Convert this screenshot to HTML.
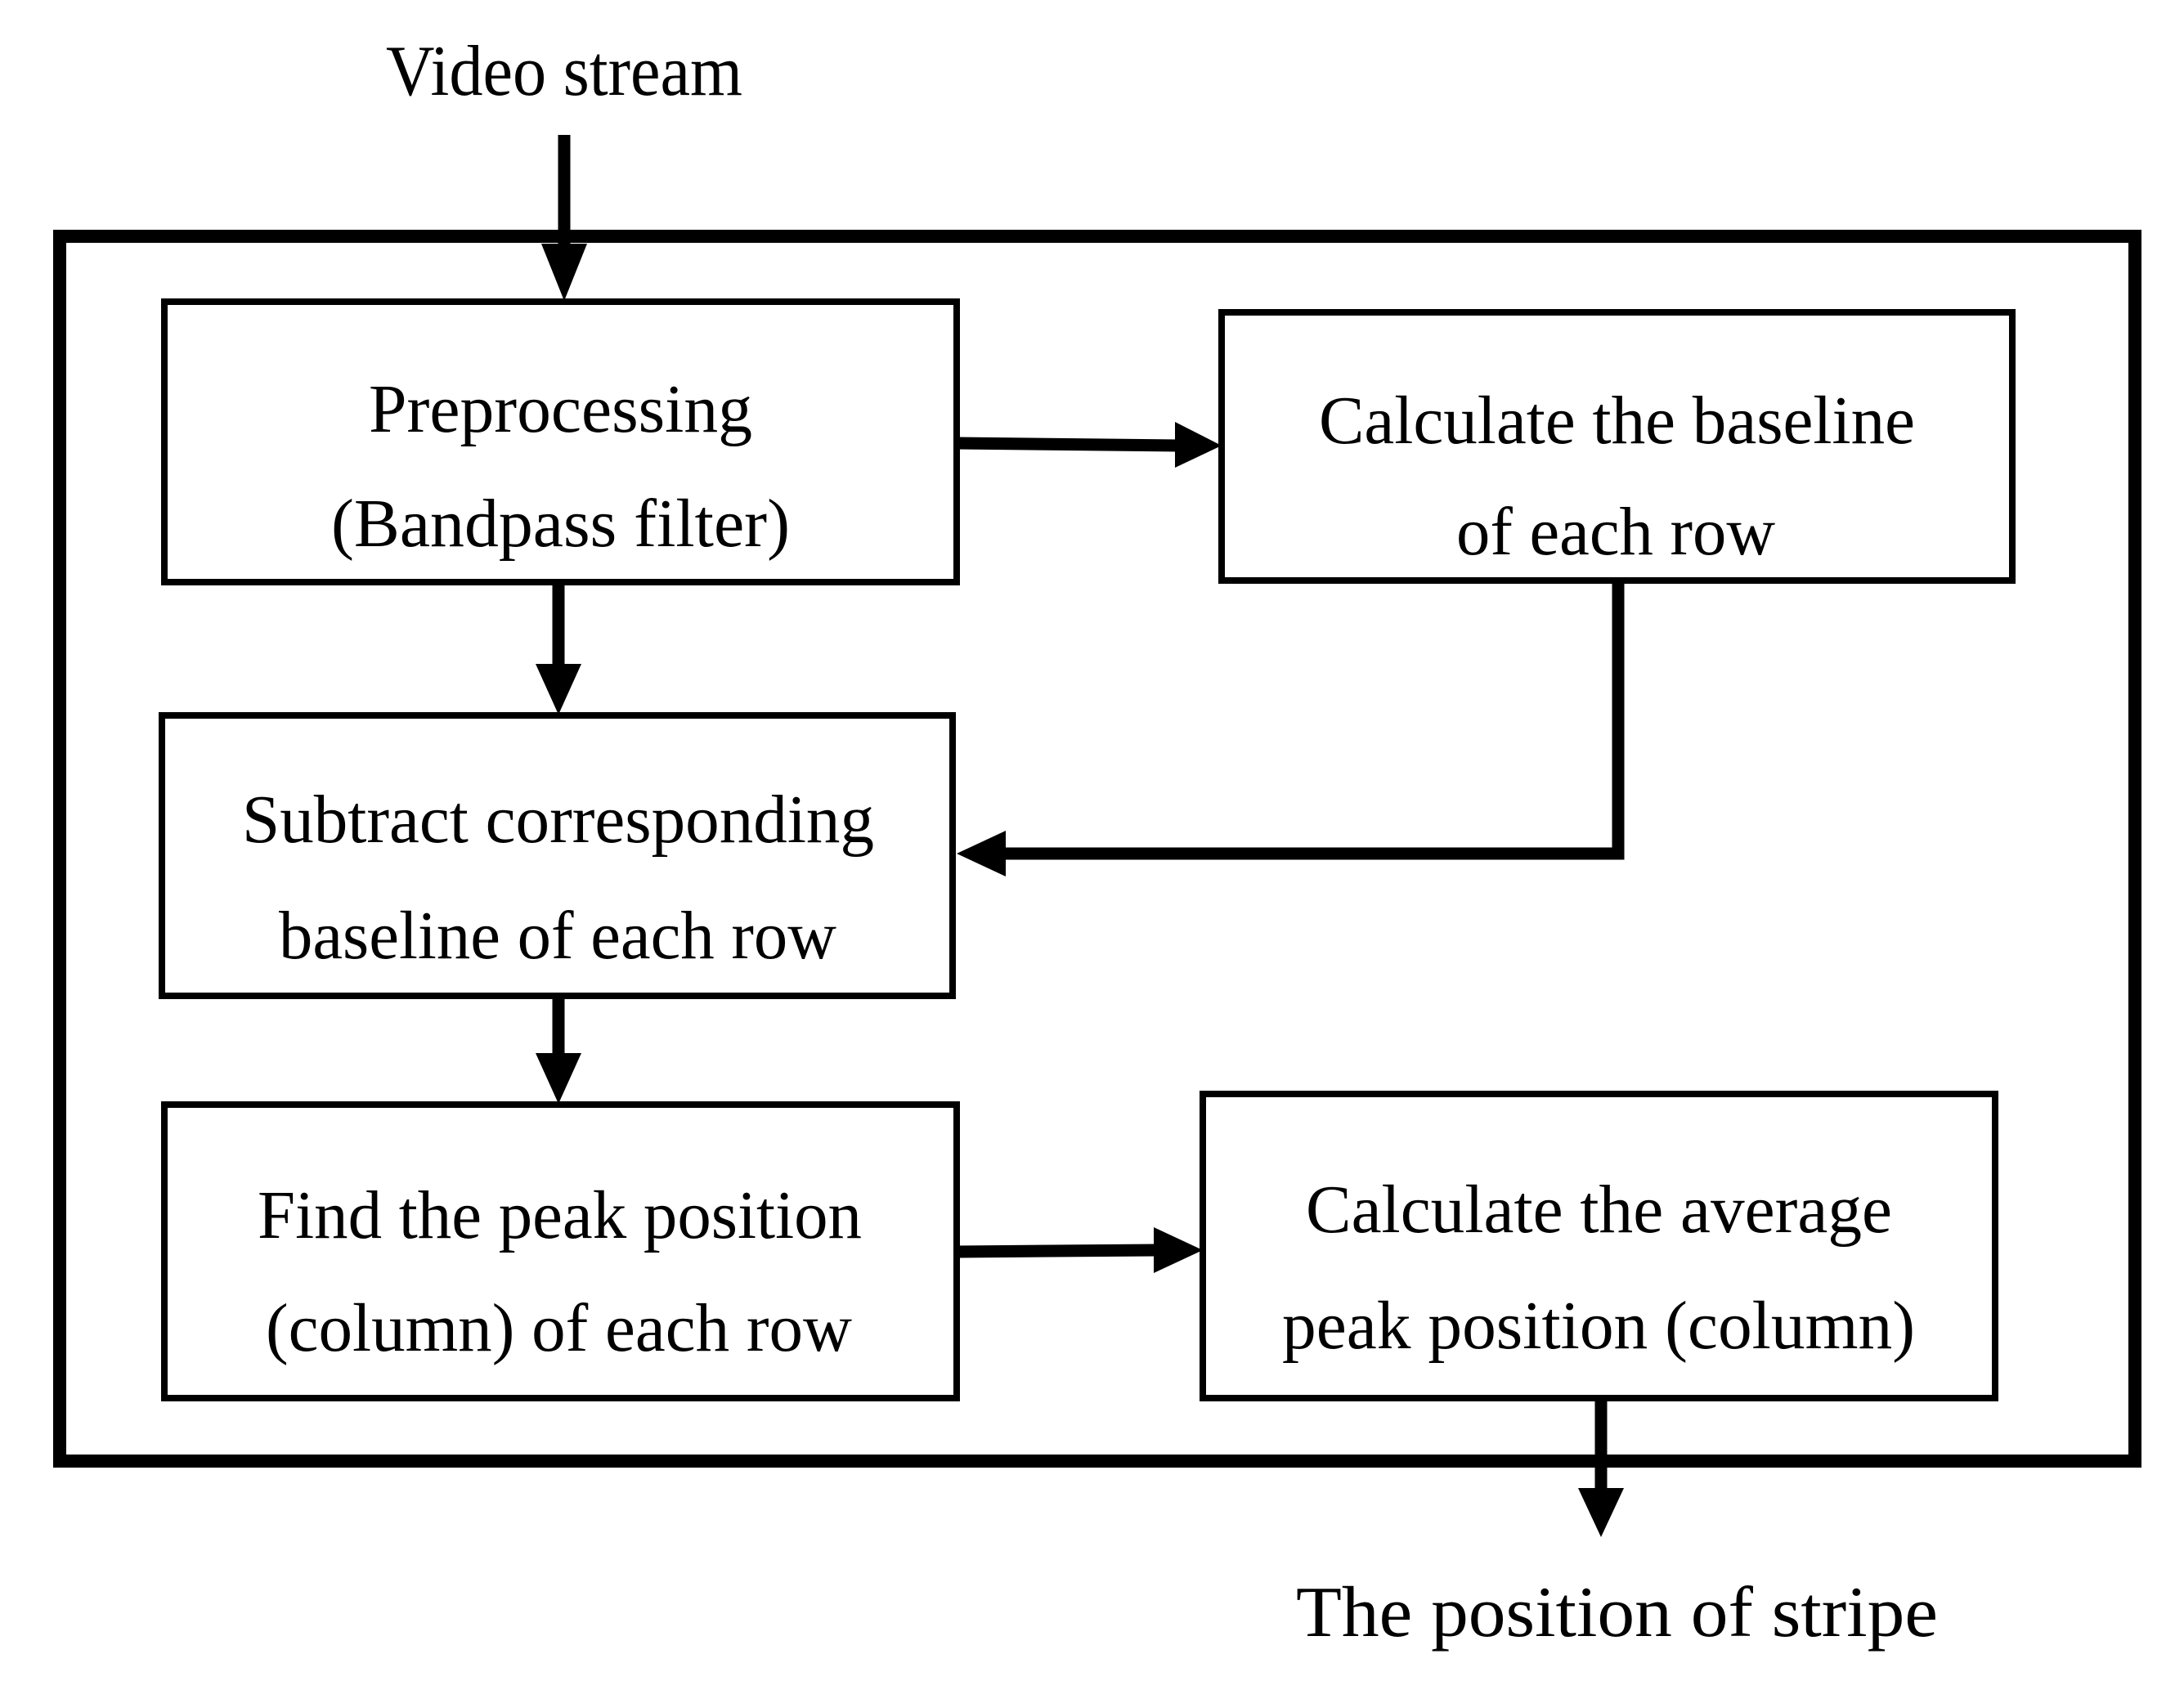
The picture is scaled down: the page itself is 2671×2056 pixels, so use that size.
<!DOCTYPE html>
<html><head><meta charset="utf-8"><style>html,body{margin:0;padding:0;background:#fff}svg{display:block}</style></head>
<body>
<svg width="2671" height="2056" viewBox="0 0 2671 2056" xmlns="http://www.w3.org/2000/svg" font-family="'Liberation Serif', serif" font-size="84" fill="#000">
<rect x="0" y="0" width="2671" height="2056" fill="#fff"/>
<rect x="73" y="289" width="2538" height="1498" fill="none" stroke="#000" stroke-width="16"/>
<g fill="none" stroke="#000" stroke-width="8">
<rect x="201" y="369" width="969" height="343"/>
<rect x="1494" y="382" width="967" height="328"/>
<rect x="198" y="875" width="967" height="343"/>
<rect x="201" y="1351" width="969" height="359"/>
<rect x="1471" y="1338" width="969" height="372"/>
</g>
<g stroke="#000" stroke-width="15" fill="none">
<line x1="690" y1="165" x2="690" y2="300"/>
<line x1="1170" y1="542" x2="1442" y2="545"/>
<line x1="683" y1="712" x2="683" y2="816"/>
<polyline points="1979,710 1979,1044 1228,1044"/>
<line x1="683" y1="1218" x2="683" y2="1291"/>
<line x1="1170" y1="1531" x2="1415" y2="1529"/>
<line x1="1958" y1="1710" x2="1958" y2="1824"/>
</g>
<g fill="#000">
<polygon points="662,298 718,298 690,368"/>
<polygon points="1437,516 1437,572 1494,545"/>
<polygon points="655,812 711,812 683,874"/>
<polygon points="1230,1016 1230,1072 1170,1044"/>
<polygon points="655,1288 711,1288 683,1350"/>
<polygon points="1411,1501 1411,1557 1471,1529"/>
<polygon points="1930,1820 1986,1820 1958,1880"/>
</g>
<g text-anchor="start">
<text x="472" y="116" textLength="436" lengthAdjust="spacingAndGlyphs" font-size="88">Video stream</text>
<text x="451" y="528" textLength="469" lengthAdjust="spacingAndGlyphs">Preprocessing</text>
<text x="405" y="668" textLength="561" lengthAdjust="spacingAndGlyphs">(Bandpass filter)</text>
<text x="1613" y="542" textLength="729" lengthAdjust="spacingAndGlyphs">Calculate the baseline</text>
<text x="1781" y="678" textLength="390" lengthAdjust="spacingAndGlyphs">of each row</text>
<text x="296" y="1030" textLength="773" lengthAdjust="spacingAndGlyphs">Subtract corresponding</text>
<text x="341" y="1172" textLength="682" lengthAdjust="spacingAndGlyphs">baseline of each row</text>
<text x="315" y="1514" textLength="739" lengthAdjust="spacingAndGlyphs">Find the peak position</text>
<text x="325" y="1652" textLength="717" lengthAdjust="spacingAndGlyphs">(column) of each row</text>
<text x="1597" y="1507" textLength="717" lengthAdjust="spacingAndGlyphs">Calculate the average</text>
<text x="1568" y="1649" textLength="774" lengthAdjust="spacingAndGlyphs">peak position (column)</text>
<text x="1585" y="2001" textLength="785" lengthAdjust="spacingAndGlyphs" font-size="88">The position of stripe</text>
</g>
</svg>
</body></html>
